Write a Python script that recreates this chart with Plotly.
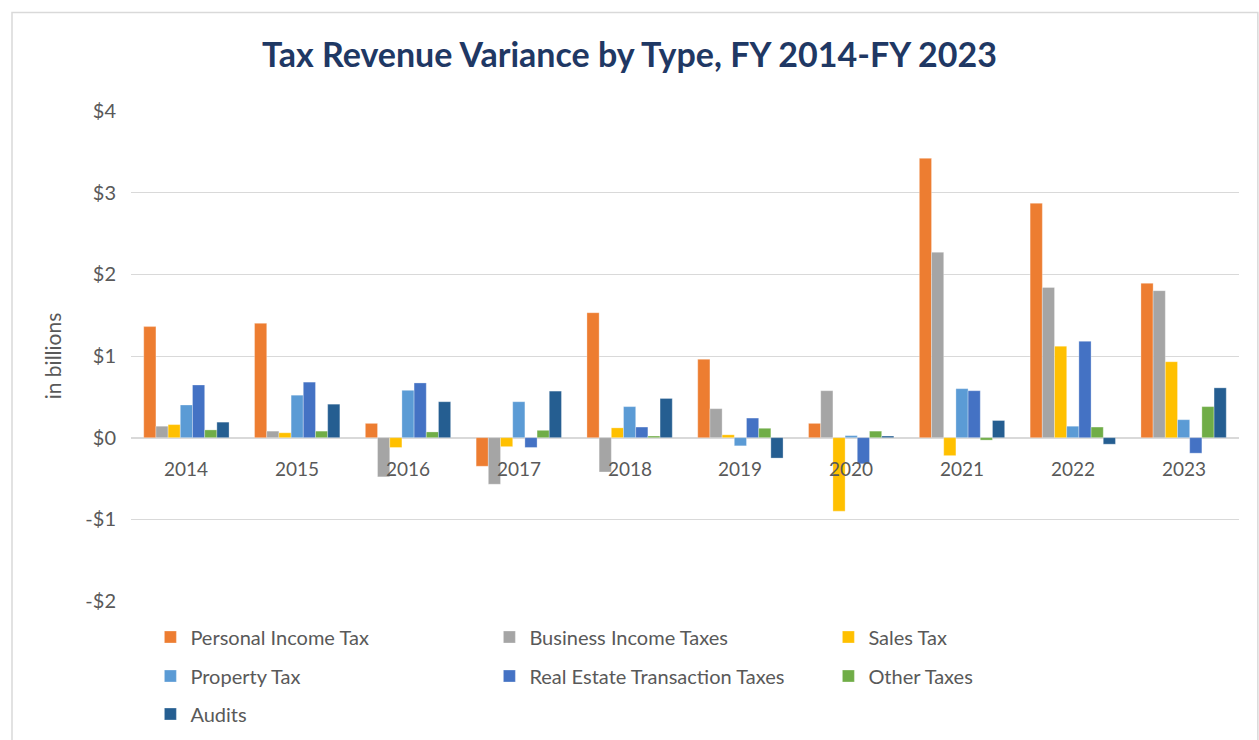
import plotly.graph_objects as go

years = ["2014", "2015", "2016", "2017", "2018", "2019", "2020", "2021", "2022", "2023"]

personal_income = [1.36, 1.40, 0.175, -0.35, 1.53, 0.96, 0.175, 3.42, 2.87, 1.89]
business_income = [0.14, 0.08, -0.48, -0.57, -0.42, 0.355, 0.575, 2.27, 1.84, 1.80]
sales_tax = [0.16, 0.06, -0.12, -0.11, 0.12, 0.035, -0.90, -0.22, 1.12, 0.93]
property_tax = [0.40, 0.52, 0.58, 0.44, 0.38, -0.10, 0.025, 0.60, 0.14, 0.22]
real_estate = [0.645, 0.68, 0.67, -0.12, 0.13, 0.24, -0.32, 0.575, 1.18, -0.19]
other_taxes = [0.095, 0.08, 0.07, 0.09, 0.02, 0.115, 0.08, -0.03, 0.13, 0.38]
audits = [0.19, 0.41, 0.44, 0.57, 0.48, -0.25, 0.02, 0.21, -0.08, 0.61]

series_names = ["Personal Income Tax", "Business Income Taxes", "Sales Tax",
                "Property Tax", "Real Estate Transaction Taxes", "Other Taxes", "Audits"]
series_values = [personal_income, business_income, sales_tax, property_tax,
                 real_estate, other_taxes, audits]
series_colors = ["#ED7D31", "#A5A5A5", "#FFC000", "#5B9BD5", "#4472C4", "#70AD47", "#255E91"]
legend_rows = ["legend", "legend", "legend", "legend2", "legend2", "legend2", "legend3"]

y_ticks = [-2, -1, 0, 1, 2, 3, 4]
y_tick_labels = ["-$2", "-$1", "$0", "$1", "$2", "$3", "$4"]

FONT = "Lato, 'Open Sans', sans-serif"
TXT = "#595959"

fig = go.Figure()
for name, vals, col, lg in zip(series_names, series_values, series_colors, legend_rows):
    fig.add_trace(go.Bar(
        x=years, y=vals, name=name, legend=lg,
        marker=dict(color=col, line=dict(color="rgba(255,255,255,0.6)", width=0.5)),
    ))

# category labels placed just below the zero line (category index positions)
for i, yr in enumerate(years):
    fig.add_annotation(x=i, y=0, xref="x", yref="y", text=yr, showarrow=False,
                       yshift=-31, font=dict(family=FONT, size=19, color=TXT))

PLOT_H = 490.0
def leg(yc):
    return dict(orientation="h", x=0.0175, xanchor="left",
                y=-(yc - 601) / PLOT_H, yanchor="middle",
                entrywidth=294, entrywidthmode="pixels", traceorder="normal",
                bgcolor="rgba(0,0,0,0)",
                font=dict(family=FONT, size=20, color=TXT), itemwidth=30)

fig.update_layout(
    width=1259, height=740,
    paper_bgcolor="white", plot_bgcolor="white",
    margin=dict(l=130.6, r=19.8, t=111, b=139, autoexpand=False),
    barmode="group", bargap=0.23, bargroupgap=0,
    title=dict(text="<b>Tax Revenue Variance by Type, FY 2014-FY 2023</b>",
               x=0.5, xanchor="center", y=0.925, yanchor="middle",
               font=dict(family=FONT, size=34, color="#1F3864")),
    xaxis=dict(type="category", range=[-0.5, 9.5], showticklabels=False, showgrid=False,
               zeroline=False, showline=False, ticks=""),
    yaxis=dict(range=[-2, 4], tickvals=y_ticks, ticktext=y_tick_labels,
               showgrid=True, gridcolor="#D9D9D9", gridwidth=1.3,
               zeroline=True, zerolinecolor="#D9D9D9", zerolinewidth=1.5,
               showline=False, ticks="", ticklabelstandoff=14,
               tickfont=dict(family=FONT, size=20, color=TXT),
               title=dict(text="in billions", standoff=18,
                          font=dict(family=FONT, size=21, color=TXT))),
    legend=leg(637), legend2=leg(676), legend3=leg(714),
    showlegend=True,
    shapes=[dict(type="rect", xref="paper", yref="paper",
                 x0=-0.1074, x1=1.017, y0=-0.3, y1=1.201,
                 line=dict(color="#D9D9D9", width=1.5), layer="below")],
)

fig.write_html("out.html", config={"displayModeBar": False},
               post_script="document.body.style.margin='0';document.body.style.overflow='hidden';")
